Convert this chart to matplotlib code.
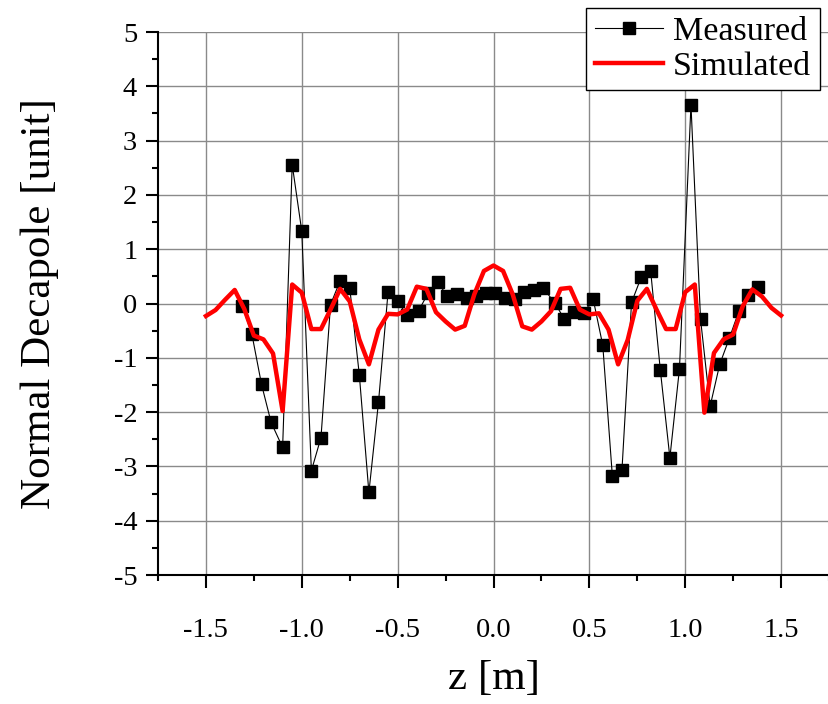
"""
Normal decapole along z: measured vs simulated
"""

import numpy as np
import matplotlib
matplotlib.use("Agg")
import matplotlib.pyplot as plt
from matplotlib.ticker import MultipleLocator, FormatStrFormatter

plt.rcParams['font.family'] = ['Liberation Serif', 'DejaVu Serif']
plt.rcParams['axes.unicode_minus'] = False

## Data

z_meas = [-1.31, -1.26, -1.21, -1.16, -1.10, -1.05, -1.00, -0.95, -0.90, -0.85,
          -0.80, -0.75, -0.70, -0.65, -0.60, -0.55, -0.50, -0.45, -0.39, -0.34,
          -0.29, -0.24, -0.19, -0.14, -0.09, -0.04, 0.01, 0.06, 0.11, 0.16,
          0.21, 0.26, 0.32, 0.37, 0.42, 0.47, 0.52, 0.57, 0.62, 0.67,
          0.72, 0.77, 0.82, 0.87, 0.92, 0.97, 1.03, 1.08, 1.13, 1.18,
          1.23, 1.28, 1.33, 1.38]
b5_meas = [-0.05, -0.57, -1.49, -2.19, -2.65, 2.56, 1.33, -3.08, -2.47, -0.02,
           0.42, 0.29, -1.31, -3.48, -1.82, 0.21, 0.04, -0.22, -0.13, 0.20,
           0.39, 0.13, 0.17, 0.10, 0.13, 0.19, 0.19, 0.11, 0.09, 0.22,
           0.25, 0.28, 0.01, -0.29, -0.15, -0.17, 0.08, -0.77, -3.18, -3.07,
           0.02, 0.48, 0.59, -1.22, -2.84, -1.20, 3.66, -0.29, -1.89, -1.12,
           -0.64, -0.14, 0.16, 0.31]

z_sim = [-1.50, -1.45, -1.40, -1.35, -1.30, -1.25, -1.20, -1.15, -1.10, -1.05,
         -1.00, -0.95, -0.90, -0.85, -0.80, -0.75, -0.70, -0.65, -0.60, -0.55,
         -0.50, -0.45, -0.40, -0.35, -0.30, -0.25, -0.20, -0.15, -0.10, -0.05,
         0.00, 0.05, 0.10, 0.15, 0.20, 0.25, 0.30, 0.35, 0.40, 0.45,
         0.50, 0.55, 0.60, 0.65, 0.70, 0.75, 0.80, 0.85, 0.90, 0.95,
         1.00, 1.05, 1.10, 1.15, 1.20, 1.25, 1.30, 1.35, 1.40, 1.45, 1.50]
b5_sim = [-0.23, -0.12, 0.07, 0.25, -0.10, -0.59, -0.66, -0.92, -1.98, 0.35,
          0.20, -0.47, -0.47, -0.11, 0.27, 0.04, -0.66, -1.12, -0.48, -0.19,
          -0.20, -0.11, 0.31, 0.27, -0.16, -0.33, -0.48, -0.41, 0.17, 0.60,
          0.70, 0.60, 0.17, -0.42, -0.48, -0.33, -0.14, 0.27, 0.29, -0.11,
          -0.20, -0.18, -0.48, -1.12, -0.67, 0.05, 0.27, -0.11, -0.47, -0.47,
          0.21, 0.35, -2.01, -0.91, -0.66, -0.57, -0.05, 0.26, 0.13, -0.08, -0.22]

## Plot

fig = plt.figure(figsize=(8.29, 7.04), dpi=100)
ax = fig.add_axes([0.1906, 0.1832, 0.8094, 0.7713])

ax.plot(z_meas, b5_meas, color="black", lw=0.8, marker="s", ms=8.5,
        mec="black", mfc="black", label="Measured", zorder=3)
ax.plot(z_sim, b5_sim, color="red", lw=3.2, label="Simulated", zorder=4)

ax.set_xlim(-1.75, 1.75)
ax.set_ylim(-5, 5)
ax.xaxis.set_major_locator(MultipleLocator(0.5))
ax.xaxis.set_minor_locator(MultipleLocator(0.25))
ax.yaxis.set_major_locator(MultipleLocator(1))
ax.yaxis.set_minor_locator(MultipleLocator(0.5))
ax.xaxis.set_major_formatter(FormatStrFormatter('%.1f'))

ax.grid(True, which="major", color="#8a8a8a", lw=1.0)
ax.set_axisbelow(True)

for side in ["top", "right"]:
    ax.spines[side].set_visible(False)
for side in ["left", "bottom"]:
    ax.spines[side].set_linewidth(1.5)

ax.tick_params(which="major", direction="out", length=9, width=1.5,
               labelsize=20.5, pad=6)
ax.tick_params(which="minor", direction="out", length=4.5, width=1.5)
ax.tick_params(axis="x", pad=22)

ax.set_xlabel("z [m]", fontsize=31, labelpad=12)
ax.set_ylabel("Normal Decapole [unit]", fontsize=31, labelpad=39)

leg = ax.legend(loc="upper right", bbox_to_anchor=(0.989, 0.989),
                bbox_transform=fig.transFigure, fontsize=24.5, fancybox=False,
                framealpha=1, edgecolor="black", borderpad=0.25,
                labelspacing=0.12, handlelength=2.0, handletextpad=0.3,
                borderaxespad=0)
leg.get_frame().set_linewidth(1.0)

fig.savefig("out.png", dpi=100)
